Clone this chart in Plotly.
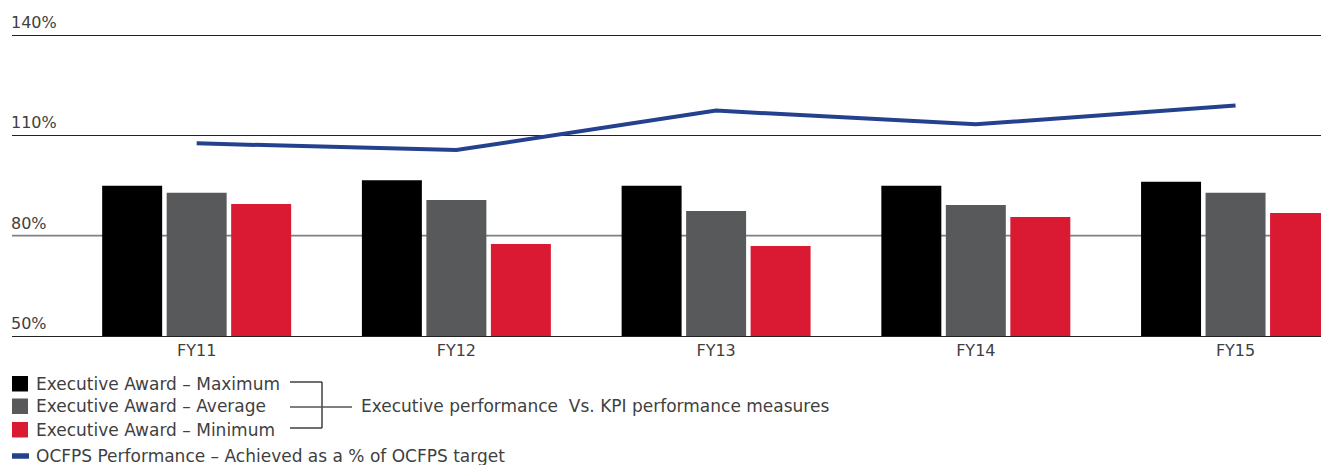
import plotly.graph_objects as go

categories = ["FY11", "FY12", "FY13", "FY14", "FY15"]
award_max = [94.9, 96.6, 94.9, 94.9, 96.1]
award_avg = [92.8, 90.7, 87.4, 89.2, 92.8]
award_min = [89.5, 77.5, 76.9, 85.6, 86.8]
ocfps_perf = [107.6, 105.6, 117.4, 113.3, 118.9]
y_ticks = [50, 80, 110, 140]
y_tick_labels = ["50%", "80%", "110%", "140%"]
light_grid_value = 80

legend_labels = [
    "Executive Award – Maximum",
    "Executive Award – Average",
    "Executive Award – Minimum",
]
line_label = "OCFPS Performance – Achieved as a % of OCFPS target"
bracket_label = "Executive performance \u00a0Vs. KPI performance measures"

C_MAX = "#000000"
C_AVG = "#58595b"
C_MIN = "#da1a32"
C_LINE = "#24418e"
TXT = "#3f3f3f"
FONT = "DejaVu Sans"
FS = 17

W, H = 1321, 465
Y_TOP = 141.5
PX_PER_PCT = (336 - 35) / 90.0
top_px = 35 - (Y_TOP - 140) * PX_PER_PCT
ML, MR, MT, MB = 12, 0, top_px, 465 - 336
PW = W - ML - MR
PH = H - MT - MB


def px(x):
    return (x - ML) / PW


def py(y):
    return (H - MB - y) / PH


fig = go.Figure()
for name, vals, col in zip(legend_labels, [award_max, award_avg, award_min], [C_MAX, C_AVG, C_MIN]):
    fig.add_trace(go.Bar(x=categories, y=vals, name=name, marker=dict(color=col, line=dict(width=0)),
                         showlegend=False))
fig.add_trace(go.Scatter(x=categories, y=ocfps_perf, name=line_label, mode="lines",
                         line=dict(color=C_LINE, width=4), showlegend=False))

shapes = []
# lighter 80% reference line (drawn below the bars)
shapes.append(dict(type="line", xref="paper", yref="y", x0=0, x1=1, y0=light_grid_value, y1=light_grid_value,
                   line=dict(color="#808080", width=1.6), layer="below"))

annotations = []
for v, t in zip(y_ticks, y_tick_labels):
    annotations.append(dict(xref="paper", yref="y", x=0, y=v, text=t, showarrow=False,
                            xanchor="left", yanchor="bottom", yshift=1, xshift=-3,
                            font=dict(family=FONT, size=FS - 1, color=TXT)))

cols = [C_MAX, C_AVG, C_MIN]
sq_tops = [376, 398.5, 422]
txt_centers = [384, 406.5, 430]
for col, top, tc, lab in zip(cols, sq_tops, txt_centers, legend_labels):
    shapes.append(dict(type="rect", xref="paper", yref="paper", x0=px(12), x1=px(28),
                       y0=py(top), y1=py(top + 15.5), fillcolor=col, line=dict(width=0)))
    annotations.append(dict(xref="paper", yref="paper", x=px(34), y=py(tc), text=lab,
                            showarrow=False, xanchor="left", yanchor="middle",
                            font=dict(family=FONT, size=FS, color=TXT)))
# line legend (thick stroke)
shapes.append(dict(type="line", xref="paper", yref="paper", x0=px(12), x1=px(29), y0=py(456), y1=py(456),
                   line=dict(color=C_LINE, width=5.5)))
annotations.append(dict(xref="paper", yref="paper", x=px(34), y=py(456), text=line_label,
                        showarrow=False, xanchor="left", yanchor="middle",
                        font=dict(family=FONT, size=FS, color=TXT)))
# bracket
for (x0, y0, x1, y1, c) in [(290, 382, 322, 382, "#222222"), (290, 428, 322, 428, "#222222"),
                             (322, 382, 322, 428, "#222222"), (290, 407, 352, 407, "#555555")]:
    shapes.append(dict(type="line", xref="paper", yref="paper", x0=px(x0), x1=px(x1), y0=py(y0), y1=py(y1),
                       line=dict(color=c, width=1.3)))
annotations.append(dict(xref="paper", yref="paper", x=px(359), y=py(406), text=bracket_label,
                        showarrow=False, xanchor="left", yanchor="middle",
                        font=dict(family=FONT, size=FS, color=TXT)))

fig.update_layout(
    width=W, height=H,
    margin=dict(l=ML, r=MR, t=MT, b=MB, pad=0),
    paper_bgcolor="white", plot_bgcolor="white",
    barmode="group", bargap=0.255, bargroupgap=0.07,
    font=dict(family=FONT, size=FS, color=TXT),
    shapes=shapes, annotations=annotations,
    showlegend=False,
)
fig.update_xaxes(range=[-0.711, 4.329], showgrid=False, showline=True, linecolor="#222222", linewidth=1.3,
                 ticks="", tickfont=dict(family=FONT, size=FS - 1, color=TXT), fixedrange=True)
fig.update_yaxes(range=[50, Y_TOP], tickvals=[v for v in y_ticks if v != light_grid_value],
                 showticklabels=False, showgrid=True, fixedrange=True,
                 gridcolor="#222222", gridwidth=1.3, zeroline=False, showline=False, ticks="")

fig.write_html("out.html", config={"displayModeBar": False},
               post_script="document.body.style.margin='0';")
